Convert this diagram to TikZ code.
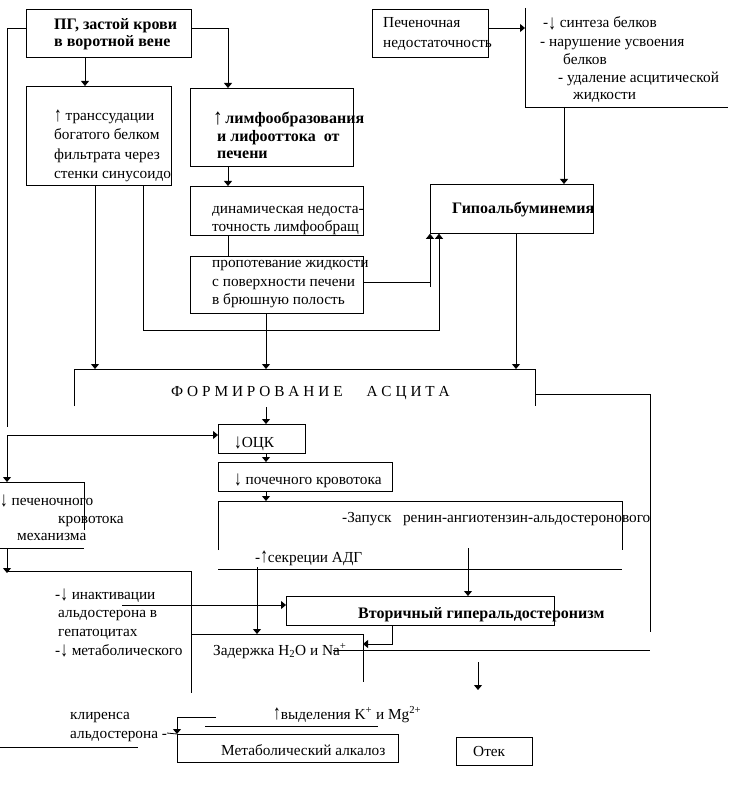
\documentclass[tikz,border=0pt]{standalone}
\usepackage{fontspec}
\usepackage{graphicx}
\setmainfont{Liberation Serif}
\usetikzlibrary{arrows.meta}
\newcommand\myup{\raisebox{-0.5pt}{\scalebox{1}[1.35]{↑}}}
\newcommand\mydn{\raisebox{-1.5pt}{\scalebox{1}[1.35]{↓}}}
\newcommand\ls[1]{#1\kern3.9pt}
\begin{document}
\begin{tikzpicture}[x=1pt,y=-1pt,
  ln/.style={line width=0.8pt},
  arr/.style={ln,-{Triangle[width=8pt,length=5pt]}},
  box/.style={draw,ln,anchor=north west,inner sep=0pt},
  tx/.style={anchor=base west,inner sep=0pt,font=\fontsize{15.3}{18}\selectfont},
  bt/.style={tx,font=\fontsize{16}{18}\selectfont\bfseries}]
\useasboundingbox (0,0) rectangle (728,786);
% boxes
\node[box,minimum width=165pt,minimum height=48pt] (pg) at (26,9) {};
\node[box,minimum width=145pt,minimum height=99pt] (trans) at (26,86) {};
\node[box,minimum width=163pt,minimum height=78pt] (limf) at (190,88) {};
\node[box,minimum width=173pt,minimum height=49pt] (dyn) at (190,186) {};
\node[box,minimum width=173pt,minimum height=57pt] (prop) at (190,256) {};
\node[box,minimum width=163pt,minimum height=49pt] (hypo) at (430,184) {};
\node[box,minimum width=116pt,minimum height=48pt] (pn) at (372,9) {};
\node[box,minimum width=87pt,minimum height=29pt] (ock) at (218,424) {};
\node[box,minimum width=174pt,minimum height=29pt] (pk) at (218,462) {};
\node[box,minimum width=268pt,minimum height=29pt] (vtor) at (286,596) {};
\node[box,minimum width=221pt,minimum height=28pt] (alk) at (177,734) {};
\node[box,minimum width=76pt,minimum height=28pt] (otek) at (456,737) {};
% open frames
\coordinate (lst) at (525,107);
\draw[ln] (525,8) -- (lst) -- (728,107);
\coordinate (form) at (74,369);
\draw[ln] (74,406) -- (form) -- (535,369) -- (535,406);
\coordinate (zap) at (218,501);
\draw[ln] (218,550) -- (zap) -- (622,501) -- (622,550);
\draw[ln] (218,569) -- (622,569);
\coordinate (pech) at (84,482);
\draw[ln] (0,482) -- (pech) -- (84,530);
\draw[ln] (0,548) -- (84,548);
\coordinate (zad) at (363,634);
\draw[ln] (191,634) -- (zad) -- (363,682);
\draw[ln] (0,747) -- (138,747);
\draw[ln] (205,726) -- (378,726);
\draw[ln] (167,733) -- (alk.north west);
% texts
\node[bt] (t1) at (54,30) {ПГ, застой крови};
\node[bt] (t2) at (54,47) {в воротной вене};
\node[tx] (t3) at (54,121) {\myup\ транссудации};
\node[tx] (t4) at (54,140) {богатого белком};
\node[tx] (t5) at (54,160) {фильтрата через};
\node[tx] (t6) at (54,179) {стенки синусоидо};
\node[bt] (t7) at (213,124) {\raisebox{-0.5pt}{\scalebox{1.2}[1.4]{↑}}\,лимфообразования};
\node[bt] (t8) at (217,142) {и лифооттока~ от};
\node[bt] (t9) at (217,159) {печени};
\node[tx] (t10) at (212,214) {динамическая недоста-};
\node[tx] (t11) at (212,232) {точность лимфообращ};
\node[tx] (t12) at (212,267) {пропотевание жидкости};
\node[tx] (t13) at (212,286) {с поверхности печени};
\node[tx] (t14) at (212,304) {в брюшную полость};
\node[bt] (t15) at (452,214) {Гипоальбуминемия};
\node[tx] (t16) at (383,28) {Печеночная};
\node[tx] (t17) at (383,48) {недостаточность};
\node[tx] (t18) at (543,28) {-\mydn\ синтеза белков};
\node[tx] (t19) at (540,47) {- нарушение усвоения};
\node[tx] (t20) at (563,65) {белков};
\node[tx] (t21) at (558,83) {- удаление асцитической};
\node[tx] (t22) at (573,100) {жидкости};
\node[tx] (t23) at (171,396) {\ls Ф\ls О\ls Р\ls М\ls И\ls Р\ls О\ls В\ls А\ls Н\ls И\ls Е\hspace{20pt}\ls А\ls С\ls Ц\ls И\ls Т А};
\node[tx] (t24) at (234,447) {\mydn ОЦК};
\node[tx] (t25) at (234,484) {\mydn\ почечного кровотока};
\node[tx] (t26) at (342,522) {-Запуск~~ ренин-ангиотензин-альдостеронового};
\node[tx] (t27) at (255,562) {-\myup секреции АДГ};
\node[tx] (t28) at (0,505) {\mydn\ печеночного};
\node[tx] (t29) at (58,523) {кровотока};
\node[tx] (t30) at (17,540) {механизма};
\node[tx] (t31) at (55,599) {-\mydn\ инактивации};
\node[tx] (t32) at (58,617) {альдостерона в};
\node[tx] (t33) at (58,636) {гепатоцитах};
\node[tx] (t34) at (55,655) {-\mydn\ метаболического};
\node[tx] (t35) at (213,655) {Задержка H\textsubscript{2}O и Na\textsuperscript{+}};
\node[bt] (t36) at (358,618) {Вторичный гиперальдостеронизм};
\node[tx] (t37) at (70,719) {клиренса};
\node[tx] (t38) at (70,738) {альдостерона -};
\node[tx] (t39) at (273,719) {\myup выделения K\textsuperscript{+} и Mg\textsuperscript{2+}};
\node[tx] (t40) at (221,755) {Метаболический алкалоз};
\node[tx] (t41) at (473,756) {Отек};
% connectors
\draw[ln] (pg.west |- 0,28) -- (7,28) -- (7,427);
\draw[arr] (pg.east |- 0,28) -- (228,28) -- (limf.north -| 228,0);
\draw[arr] (pg.south -| 85,0) -- (trans.north -| 85,0);
\draw[arr] (trans.south -| 95,0) -- (form -| 95,0);
\draw[arr] (trans.south -| 143,0) -- (143,330) -- (439,330) -- (hypo.south -| 439,0);
\draw[arr] (limf.south -| 228,0) -- (dyn.north -| 228,0);
\draw[ln] (dyn.south -| 228,0) -- (prop.north -| 228,0);
\draw[ln] (prop.east |- 0,282) -- (430,282);
\draw[arr] (430,287) -- (hypo.south west);
\draw[arr] (prop.south -| 266,0) -- (form -| 266,0);
\draw[arr] (hypo.south -| 516,0) -- (form -| 516,0);
\draw[arr] (pn.east |- 0,28) -- (525,28);
\draw[arr] (lst -| 564,0) -- (hypo.north -| 564,0);
\draw[arr] (266,407) -- (ock.north -| 266,0);
\draw[arr] (ock.south -| 266,0) -- (pk.north -| 266,0);
\draw[arr] (pk.south -| 266,0) -- (zap -| 266,0);
\draw[arr] (7,435) -- (ock.west |- 0,435);
\draw[arr] (7,435) -- (pech -| 7,0);
\draw[arr] (7,548) -- (7,573);
\draw[ln] (7,571) -- (191,571) -- (191,693);
\draw[arr] (122,605) -- (vtor.west |- 0,605);
\draw[arr] (468,548) -- (vtor.north -| 468,0);
\draw[arr] (257,567) -- (zad -| 257,0);
\draw[arr] (vtor.south -| 392,0) -- (392,644) -- (zad |- 0,644);
\draw[ln] (535,394) -- (650,394) -- (650,632);
\draw[ln] (333,650) -- (650,650);
\draw[arr] (478,662) -- (478,690);
\draw[arr] (216,717) -- (177,717) -- (alk.north west);
\end{tikzpicture}
\end{document}
